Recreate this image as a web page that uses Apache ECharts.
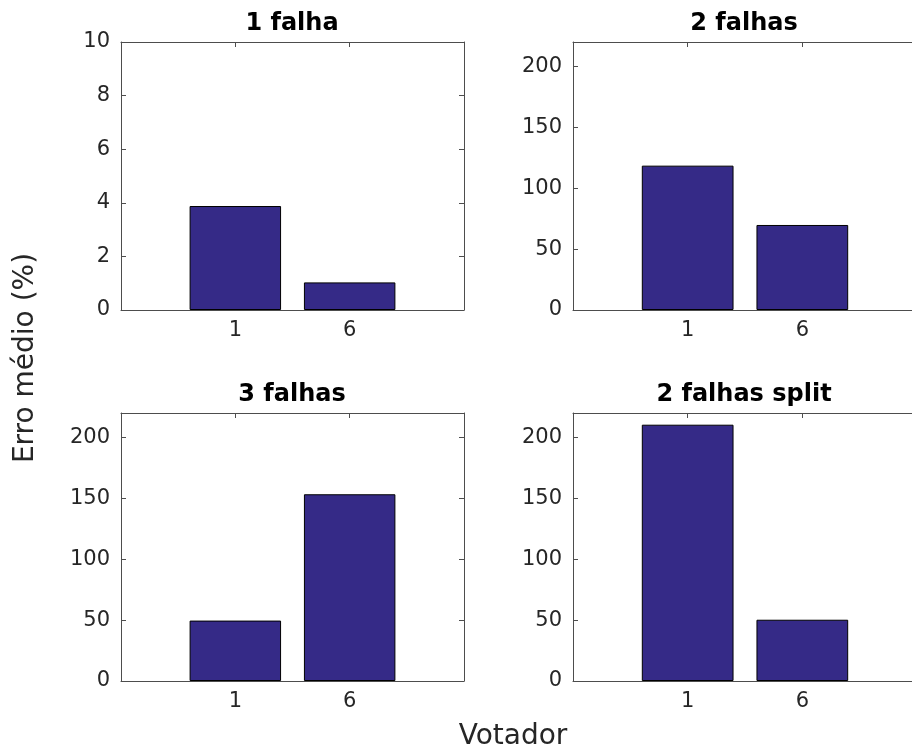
<!DOCTYPE html>
<html>
<head>
<meta charset="utf-8">
<script src="https://cdn.jsdelivr.net/npm/echarts@6/dist/echarts.min.js"></script>
<style>
html,body{margin:0;padding:0;background:#fff;}
#chart{width:912px;height:751px;}
</style>
</head>
<body>
<div id="chart"></div>
<script>
// ---- data ----
const categories = ['1', '6'];          // Votador
const titles = ['1 falha', '2 falhas', '3 falhas', '2 falhas split'];
const values1falha = [3.88, 1.03];
const values2falhas = [118.5, 69.8];
const values3falhas = [49.6, 153.3];
const values2falhasSplit = [210.4, 50.3];
const yMax = [10, 220, 220, 220];
const yStep = [2, 50, 50, 50];
const yLabelText = 'Erro médio (%)';
const xLabelText = 'Votador';

const seriesValues = [values1falha, values2falhas, values3falhas, values2falhasSplit];

// ---- layout ----
const FONT = 'DejaVu Sans';
const TXT = '#262626';
const AX = '#4d4d4d';
// full axes box is 344 px wide; the right column is cut off by the picture edge,
// so its grid is drawn wider with the x range extended by the same ratio
const BOX_W = 344;
const grids = [
  {left: 121, top: 42, width: 343, height: 268, ext: 1},
  {left: 573, top: 42, width: 400, height: 268, ext: 400 / BOX_W},
  {left: 121, top: 413, width: 343, height: 268, ext: 1},
  {left: 573, top: 413, width: 400, height: 268, ext: 400 / BOX_W}
];
const showRightEdge = [true, false, true, false];

const chart = echarts.init(document.getElementById('chart'), null, {renderer: 'canvas'});

const xAxes = [], yAxes = [], series = [], titleArr = [];
grids.forEach((g, i) => {
  const xMax = (categories.length + 1) * g.ext;
  const xi = xAxes.length;
  xAxes.push({
    type: 'value', gridIndex: i, min: 0, max: xMax, interval: 1,
    position: 'bottom',
    axisLine: {show: true, onZero: false, lineStyle: {color: AX, width: 1}},
    axisTick: {show: true, inside: true, length: 5, lineStyle: {color: AX}},
    splitLine: {show: false},
    axisLabel: {
      show: true, margin: 10, color: TXT, fontFamily: FONT, fontSize: 21,
      formatter: v => (v >= 1 && v <= categories.length && Number.isInteger(v)) ? categories[v - 1] : ''
    }
  });
  xAxes.push({
    type: 'value', gridIndex: i, min: 0, max: xMax, interval: 1,
    position: 'top',
    axisLine: {show: true, onZero: false, lineStyle: {color: AX, width: 1}},
    axisTick: {show: true, inside: true, length: 5, lineStyle: {color: AX}},
    splitLine: {show: false},
    axisLabel: {show: false}
  });
  const yi = yAxes.length;
  yAxes.push({
    type: 'value', gridIndex: i, min: 0, max: yMax[i], interval: yStep[i],
    position: 'left',
    axisLine: {show: true, onZero: false, lineStyle: {color: AX, width: 1}},
    axisTick: {show: true, inside: true, length: 5, lineStyle: {color: AX}},
    splitLine: {show: false},
    axisLabel: {show: true, margin: 11, color: TXT, fontFamily: FONT, fontSize: 21,
      showMaxLabel: yMax[i] % yStep[i] === 0}
  });
  if (showRightEdge[i]) {
    yAxes.push({
      type: 'value', gridIndex: i, min: 0, max: yMax[i], interval: yStep[i],
      position: 'right',
      axisLine: {show: true, onZero: false, lineStyle: {color: AX, width: 1}},
      axisTick: {show: true, inside: true, length: 5, lineStyle: {color: AX}},
      splitLine: {show: false},
      axisLabel: {show: false}
    });
  }
  series.push({
    type: 'bar',
    xAxisIndex: xi, yAxisIndex: yi,
    barWidth: (0.8 / (categories.length + 1) / g.ext * g.width),
    data: seriesValues[i].map((v, k) => [k + 1, v]),
    itemStyle: {color: '#352a87', borderColor: '#000', borderWidth: 1},
    silent: true,
    animation: false
  });
  titleArr.push({
    text: titles[i],
    left: g.left + 171 - 5,
    top: g.top - 35,
    textAlign: 'center',
    textStyle: {fontFamily: FONT, fontSize: 24, fontWeight: 'bold', color: '#000'}
  });
});

chart.setOption({
  animation: false,
  backgroundColor: '#fff',
  title: titleArr,
  grid: grids.map(g => ({containLabel: false, outerBoundsMode: 'none',
    left: g.left, top: g.top, width: g.width, height: g.height})),
  xAxis: xAxes,
  yAxis: yAxes,
  series: series,
  graphic: [
    {type: 'text', x: 513, y: 737,
     style: {text: xLabelText, textAlign: 'center', textVerticalAlign: 'middle',
       fontFamily: FONT, fontSize: 28, fill: TXT}},
    {type: 'text', rotation: Math.PI / 2, x: 26, y: 358,
     style: {text: yLabelText, textAlign: 'center', textVerticalAlign: 'middle',
       fontFamily: FONT, fontSize: 28, fill: TXT}}
  ]
});
</script>
</body>
</html>
